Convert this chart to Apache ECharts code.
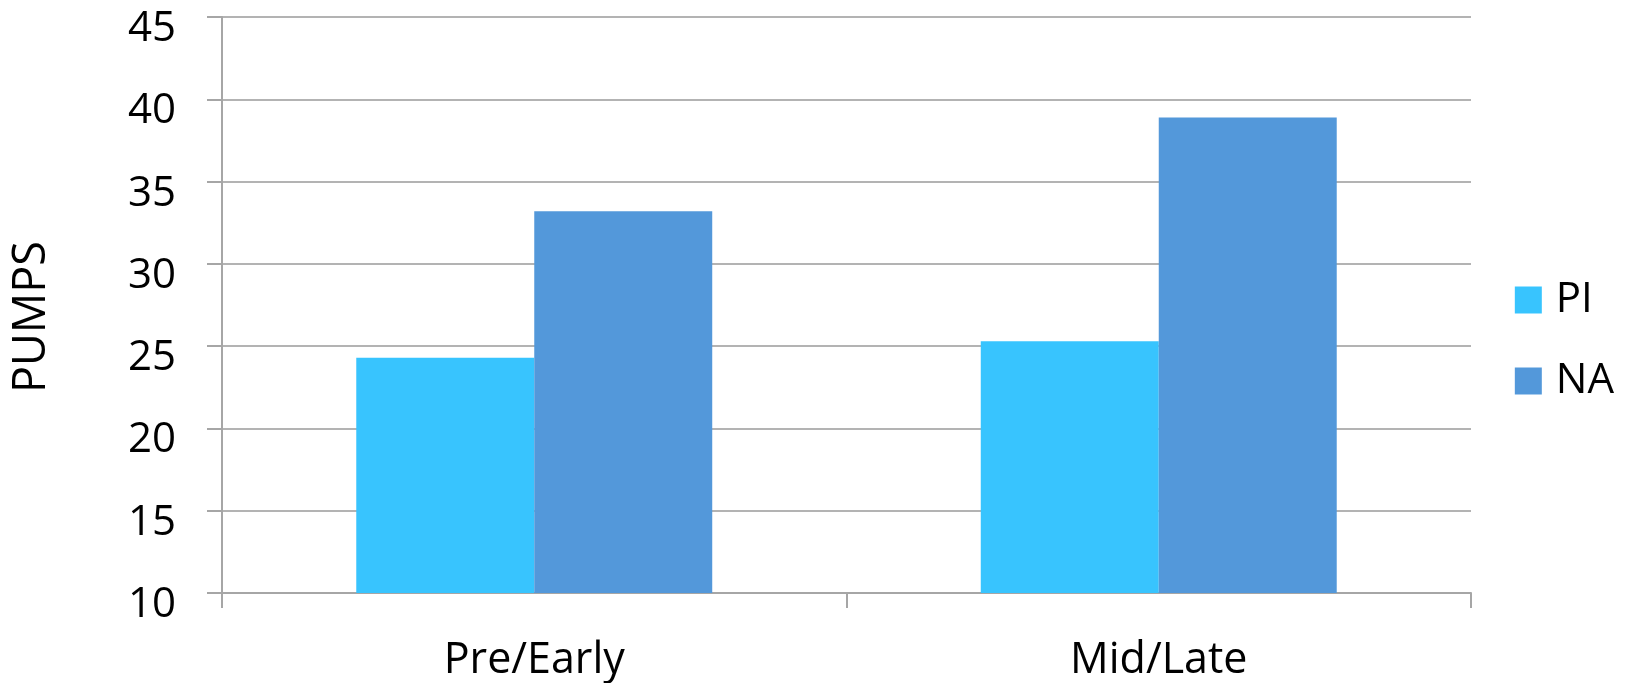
<!DOCTYPE html>
<html>
<head>
<meta charset="utf-8">
<script src="https://cdn.jsdelivr.net/npm/echarts@6/dist/echarts.min.js"></script>
<style>html,body{margin:0;padding:0;background:#fff;}#c{width:1637px;height:683px;}</style>
</head>
<body>
<div id="c"></div>
<script>
const categories = ['Pre/Early', 'Mid/Late'];
const seriesNames = ['PI', 'NA'];
const piValues = [24.3, 25.3];
const naValues = [33.2, 38.9];
const yMin = 10, yMax = 45, yStep = 5;

const FONT = '"Open Sans", sans-serif';
const chart = echarts.init(document.getElementById('c'));
chart.setOption({
  animation: false,
  backgroundColor: '#ffffff',
  grid: { left: 222, right: 166, top: 17, bottom: 90 },
  legend: {
    orient: 'vertical', right: 18, top: 274,
    itemWidth: 27, itemHeight: 27, itemGap: 39,
    icon: 'rect',
    textStyle: { fontFamily: FONT, fontSize: 42, color: '#000', lineHeight: 40, padding: [0,0,0,9] },
    data: seriesNames
  },
  xAxis: {
    type: 'category', data: categories,
    axisLine: { lineStyle: { color: '#a6a6a6', width: 2 } },
    axisTick: { show: true, length: 15, lineStyle: { color: '#a6a6a6', width: 2 } },
    axisLabel: { fontFamily: FONT, fontSize: 43, color: '#000', margin: 46 }
  },
  yAxis: {
    type: 'value', min: yMin, max: yMax, interval: yStep,
    name: 'PUMPS', nameLocation: 'middle', nameGap: 167, nameRotate: 90,
    nameTextStyle: { fontFamily: FONT, fontSize: 45, color: '#000', padding: [0, 24, 0, 0] },
    axisLine: { show: true, lineStyle: { color: '#a6a6a6', width: 2 } },
    axisTick: { show: true, length: 15, lineStyle: { color: '#a6a6a6', width: 2 } },
    splitLine: { lineStyle: { color: '#b3b3b3', width: 2 } },
    axisLabel: { fontFamily: FONT, fontSize: 42, color: '#000', margin: 46, verticalAlign: 'top', lineHeight: 24 }
  },
  series: [
    { name: seriesNames[0], type: 'bar', data: piValues, barGap: '0%', barCategoryGap: '43%',
      itemStyle: { color: '#38c4fe' } },
    { name: seriesNames[1], type: 'bar', data: naValues,
      itemStyle: { color: '#5398da' } }
  ]
});
</script>
</body>
</html>
